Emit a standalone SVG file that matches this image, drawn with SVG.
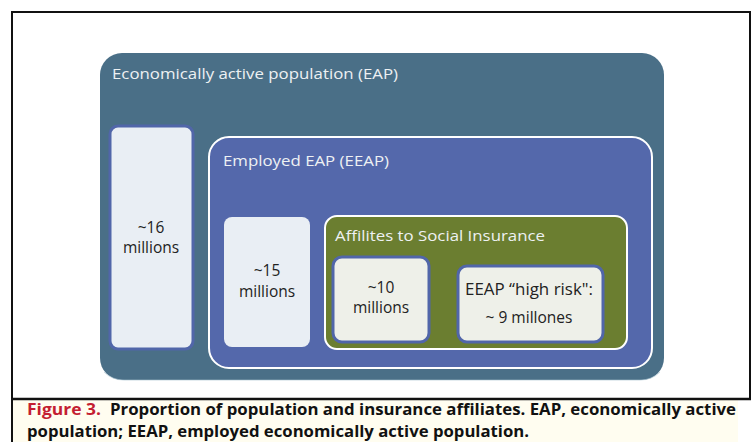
<svg xmlns="http://www.w3.org/2000/svg" width="754" height="442" viewBox="0 0 754 442">
  <style>
    .lbl-light { font-family: "Open Sans", "Noto Sans", "Liberation Sans", sans-serif; font-size: 15px; fill: #eef1f3; }
    .lbl-dark { font-family: "Open Sans", "Noto Sans", "Liberation Sans", sans-serif; font-size: 15.5px; fill: #222222; text-anchor: middle; }
    .cap { font-family: "Open Sans", "Noto Sans", "DejaVu Sans", sans-serif; font-size: 16px; font-weight: bold; fill: #111111; }
    .cap-red { fill: #c41e32; }
    .inner-box { fill: #e9eef4; }
    .blue-edge { stroke: #5166a9; stroke-width: 3; }
  </style>

  <!-- page background and figure frame -->
  <rect x="0" y="0" width="754" height="442" fill="#ffffff"/>
  <rect x="11" y="400" width="727" height="42" fill="#fffdf0"/>
  <path d="M12 442 V12 H750 V399" fill="none" stroke="#111111" stroke-width="2"/>
  <line x1="11" y1="399" x2="751" y2="399" stroke="#111111" stroke-width="2.5"/>

  <!-- economically active population -->
  <g id="eap">
    <rect x="100" y="53" width="564" height="327" rx="22" fill="#4a6f87"/>
    <path d="M104 372 Q112 380 124 380 H640 Q652 380 660 372" fill="none" stroke="#a9c3d1" stroke-width="1" opacity="0.6"/>
    <text class="lbl-light" x="112" y="79" textLength="286" lengthAdjust="spacingAndGlyphs">Economically active population (EAP)</text>
  </g>

  <g id="eap-count">
    <rect class="inner-box blue-edge" x="110" y="126" width="83" height="223" rx="8"/>
    <text class="lbl-dark" x="151" y="233">~16</text>
    <text class="lbl-dark" x="151" y="253">millions</text>
  </g>

  <!-- employed EAP -->
  <g id="eeap">
    <rect x="209" y="137" width="443" height="231" rx="20" fill="#5468ab" stroke="#ffffff" stroke-width="2"/>
    <text class="lbl-light" x="223" y="166" textLength="166" lengthAdjust="spacingAndGlyphs">Employed EAP (EEAP)</text>
  </g>

  <g id="eeap-count">
    <rect class="inner-box" x="224" y="217" width="86" height="130" rx="8"/>
    <text class="lbl-dark" x="267" y="276">~15</text>
    <text class="lbl-dark" x="267" y="297">millions</text>
  </g>

  <!-- affiliates to social insurance -->
  <g id="affiliates">
    <rect x="325" y="216" width="302" height="133" rx="12" fill="#6b7e30" stroke="#ffffff" stroke-width="2"/>
    <text class="lbl-light" x="335" y="241" textLength="210" lengthAdjust="spacingAndGlyphs">Affilites to Social Insurance</text>
  </g>

  <g id="affiliates-count">
    <rect class="blue-edge" x="333" y="257" width="96" height="85" rx="9" fill="#eef0e9"/>
    <text class="lbl-dark" x="381" y="293">~10</text>
    <text class="lbl-dark" x="381" y="313">millions</text>
  </g>

  <g id="high-risk">
    <rect class="blue-edge" x="458" y="266" width="145" height="76" rx="9" fill="#eef0e9"/>
    <text class="lbl-dark" x="529" y="295" textLength="128" lengthAdjust="spacingAndGlyphs">EEAP “high risk":</text>
    <text class="lbl-dark" x="529" y="323">~ 9 millones</text>
  </g>

  <!-- connectors: none drawn, the regions are nested -->
  <g id="connectors"></g>

  <!-- caption -->
  <text class="cap" x="27" y="415"><tspan class="cap-red" textLength="74" lengthAdjust="spacingAndGlyphs">Figure 3.</tspan><tspan x="110" textLength="626" lengthAdjust="spacingAndGlyphs">Proportion of population and insurance affiliates. EAP, economically active</tspan></text>
  <text class="cap" x="27" y="437" textLength="502" lengthAdjust="spacingAndGlyphs">population; EEAP, employed economically active population.</text>
</svg>
